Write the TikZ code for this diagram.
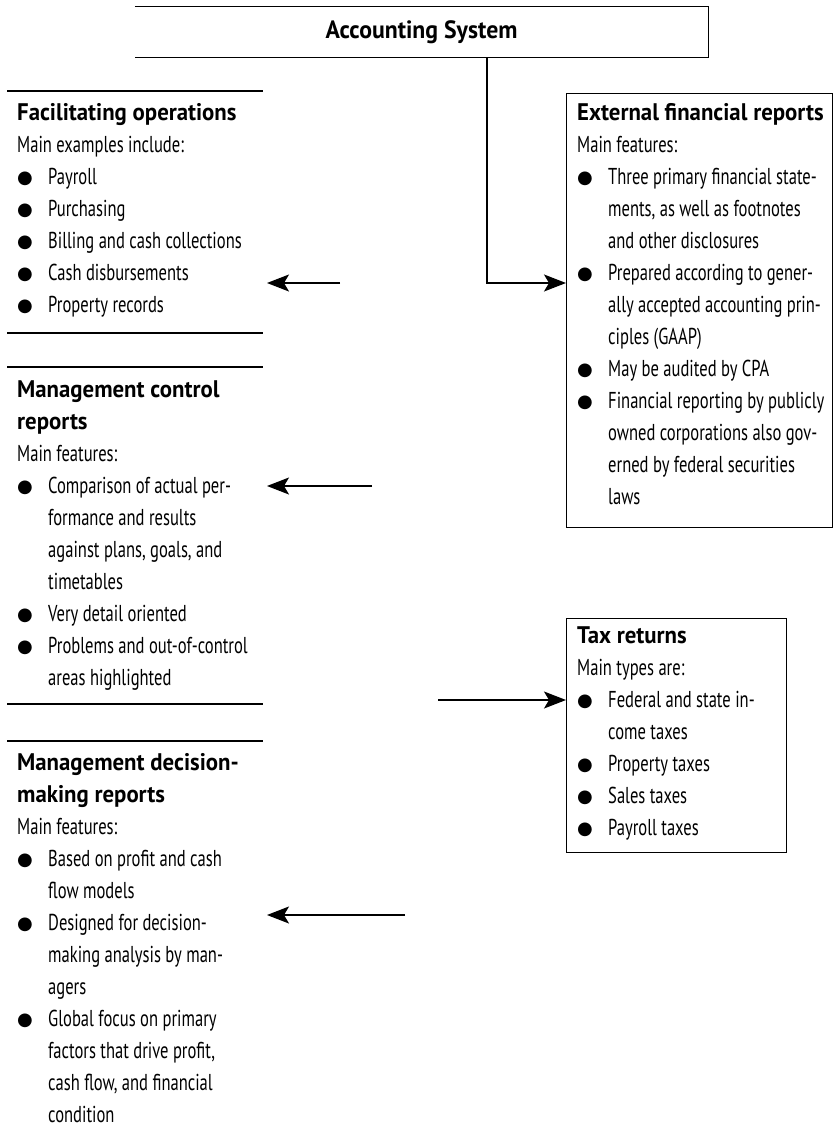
\documentclass[tikz,border=0pt]{standalone}
\usepackage{fontspec}
\setmainfont{PT Sans}[FakeStretch=0.72]
\newfontfamily\hdfont{PT Sans}[FakeStretch=0.95]
\newfontfamily\symfont{DejaVu Sans}
\usetikzlibrary{arrows.meta}
\newcommand\bl{\makebox[31pt][l]{\raisebox{1pt}{\symfont\fontsize{18}{18}\selectfont ●}}}
\newcommand\ind{\hspace*{31pt}}
\newcommand\hd[1]{{\hdfont\bfseries\fontsize{24}{32}\selectfont #1}}
\begin{document}
\begin{tikzpicture}[x=1pt,y=-1pt,
  sec/.style={anchor=north west, inner sep=0pt, align=left, font=\fontsize{23}{32}\selectfont},
  rule/.style={line width=1.3pt},
  boxl/.style={draw, line width=1.3pt, inner sep=0pt, anchor=north west},
  arr/.style={line width=1.3pt, -{Stealth[length=22pt 0,width=17pt 0,inset=5pt 0]}}]
\useasboundingbox (0,0) rectangle (835,1140);

% title box (left side open)
\node[inner sep=0pt, minimum width=573pt, minimum height=50pt] (sys) at (421.5,32) {{\hdfont\bfseries\fontsize{25}{32}\selectfont Accounting System}};
\draw[rule] (sys.north west) -- (sys.north east) -- (sys.south east) -- (sys.south west);

% left sections
\draw[rule] (7,91) -- (263,91);
\node[sec] (fac) at (17,103) {\hd{Facilitating operations}\\
Main examples include:\\
\bl Payroll\\
\bl Purchasing\\
\bl Billing and cash collections\\
\bl Cash disbursements\\
\bl Property records};
\draw[rule] (7,333) -- (263,333);

\draw[rule] (7,367) -- (263,367);
\node[sec] (ctl) at (17,380) {\hd{Management control}\\
\hd{reports}\\
Main features:\\
\bl Comparison of actual per-\\
\ind formance and results\\
\ind against plans, goals, and\\
\ind timetables\\
\bl Very detail oriented\\
\bl Problems and out-of-control\\
\ind areas highlighted};
\draw[rule] (7,704) -- (263,704);

\draw[rule] (7,741) -- (263,741);
\node[sec] (dec) at (17,753) {\hd{Management decision-}\\
\hd{making reports}\\
Main features:\\
\bl Based on profit and cash\\
\ind flow models\\
\bl Designed for decision-\\
\ind making analysis by man-\\
\ind agers\\
\bl Global focus on primary\\
\ind factors that drive profit,\\
\ind cash flow, and financial\\
\ind condition};

% right boxes
\node[boxl, minimum width=266pt, minimum height=434pt] (extbox) at (566,93) {};
\node[sec] (ext) at (577,103) {\hd{External financial reports}\\
Main features:\\
\bl Three primary financial state-\\
\ind ments, as well as footnotes\\
\ind and other disclosures\\
\bl Prepared according to gener-\\
\ind ally accepted accounting prin-\\
\ind ciples (GAAP)\\
\bl May be audited by CPA\\
\bl Financial reporting by publicly\\
\ind owned corporations also gov-\\
\ind erned by federal securities\\
\ind laws};

\node[boxl, minimum width=220pt, minimum height=234pt] (taxbox) at (566,618) {};
\node[sec] (tax) at (577,626) {\hd{Tax returns}\\
Main types are:\\
\bl Federal and state in-\\
\ind come taxes\\
\bl Property taxes\\
\bl Sales taxes\\
\bl Payroll taxes};

% connectors
\coordinate (vx) at (487,0);
\coordinate (ey) at (0,283);
\draw[arr] (sys.south -| vx) |- (extbox.west |- ey);

\coordinate (a1) at (340,283);
\coordinate (b1) at (267,283);
\draw[arr] (a1) -- (b1);
\coordinate (a2) at (372,486);
\coordinate (b2) at (267,486);
\draw[arr] (a2) -- (b2);
\coordinate (a3) at (405,915);
\coordinate (b3) at (267,915);
\draw[arr] (a3) -- (b3);
\coordinate (a4) at (438,700);
\draw[arr] (a4) -- (taxbox.west |- a4);
\end{tikzpicture}
\end{document}
